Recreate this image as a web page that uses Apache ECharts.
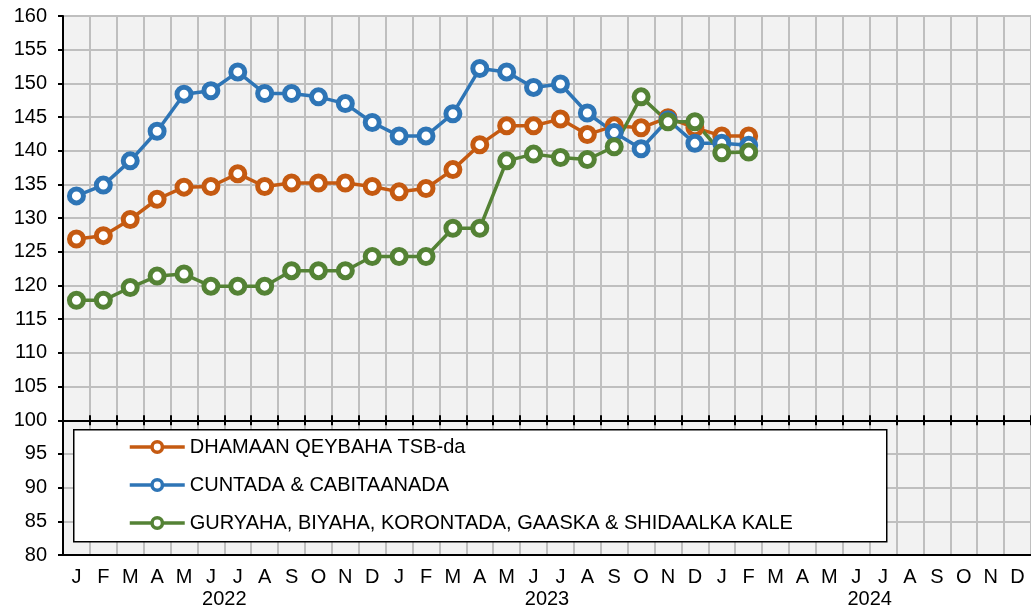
<!DOCTYPE html>
<html>
<head>
<meta charset="utf-8">
<script src="https://cdn.jsdelivr.net/npm/echarts@6/dist/echarts.min.js"></script>
<style>
  html, body { margin: 0; padding: 0; background: #fff; }
  #chart { width: 1031px; height: 609px; }
</style>
</head>
<body>
<div id="chart"></div>
<script>
// month ticks (Jan 2022 - Dec 2024)
const months = [
  "J", "F", "M", "A", "M", "J", "J", "A", "S", "O", "N", "D",
  "J", "F", "M", "A", "M", "J", "J", "A", "S", "O", "N", "D",
  "J", "F", "M", "A", "M", "J", "J", "A", "S", "O", "N", "D",
];
const years = ["2022", "2023", "2024"];

// index values
const dhamaan = [
  126.9, 127.4, 129.8, 132.8, 134.6, 134.7, 136.6, 134.7, 135.2, 135.2, 135.2, 134.7,
  133.9, 134.4, 137.2, 140.9, 143.7, 143.7, 144.7, 142.4, 143.7, 143.4, 144.9, 143.4,
  142.2, 142.2,
];
const cuntada = [
  133.3, 134.9, 138.5, 142.9, 148.4, 148.9, 151.7, 148.5, 148.5, 148.0, 147.0, 144.2,
  142.2, 142.2, 145.5, 152.2, 151.7, 149.4, 149.9, 145.6, 142.7, 140.3, 144.6, 141.1,
  141.1, 140.8,
];
const guryaha = [
  117.8, 117.8, 119.7, 121.4, 121.7, 119.9, 119.9, 119.9, 122.2, 122.2, 122.2, 124.3,
  124.3, 124.3, 128.5, 128.5, 138.5, 139.5, 139.0, 138.7, 140.6, 148.0, 144.3, 144.3,
  139.7, 139.8,
];

const seriesNames = [
  "DHAMAAN QEYBAHA TSB-da",
  "CUNTADA & CABITAANADA",
  "GURYAHA, BIYAHA, KORONTADA, GAASKA & SHIDAALKA KALE",
];
const colors = ["#C55A11", "#2E75B6", "#548235"];

const FONT = "'Liberation Sans', Arial, sans-serif";
const FONT_SIZE = 20;
const GRID_TOP = 16;
const GRID_BOTTOM = 54;
const Y_MIN = 80;
const Y_MAX = 160;

const chart = echarts.init(document.getElementById("chart"), null, { renderer: "canvas" });

const gridHeight = 609 - GRID_TOP - GRID_BOTTOM;
// x axis crosses at 100
const crossOffset = -((100 - Y_MIN) / (Y_MAX - Y_MIN)) * gridHeight;

const makeLine = (name, data, color) => ({
  name: name,
  type: "line",
  data: data,
  symbol: "circle",
  symbolSize: 14,
  z: 5,
  lineStyle: { color: color, width: 3.5 },
  itemStyle: { color: "#fff", borderColor: color, borderWidth: 5 },
  emphasis: { disabled: true },
});

const option = {
  animation: false,
  textStyle: { fontFamily: FONT },
  grid: {
    left: 63,
    right: 0,
    top: GRID_TOP,
    bottom: GRID_BOTTOM,
    show: true,
    backgroundColor: "#f2f2f2",
    borderColor: "#000",
    borderWidth: 2,
    containLabel: false,
    outerBoundsMode: "none",
  },
  graphic: [
    {
      type: "rect",
      left: 73,
      top: 429,
      shape: { width: 813, height: 112 },
      style: { fill: "#fff", stroke: "#000", lineWidth: 1.5 },
      z: 6,
    },
  ],
  legend: {
    orient: "vertical",
    left: 128,
    top: 437,
    z: 10,
    itemWidth: 55,
    itemHeight: 13,
    itemGap: 18,
    padding: 0,
    selectedMode: false,
    data: seriesNames,
    lineStyle: { width: 3.5 },
    itemStyle: { borderWidth: 3.5 },
    textStyle: { fontFamily: FONT, fontSize: FONT_SIZE, color: "#000" },
  },
  xAxis: [
    {
      type: "category",
      data: months,
      position: "bottom",
      boundaryGap: true,
      axisLine: { show: true, lineStyle: { color: "#000", width: 2 } },
      axisTick: { show: false },
      axisLabel: {
        interval: 0,
        margin: 12,
        color: "#000",
        fontSize: FONT_SIZE,
        fontFamily: FONT,
      },
      splitLine: {
        show: true,
        interval: 0,
        lineStyle: { color: "#bfbfbf", width: 2 },
      },
    },
    {
      type: "category",
      data: months,
      position: "bottom",
      offset: crossOffset,
      axisLine: { show: true, lineStyle: { color: "#000", width: 2 } },
      axisTick: { show: true, interval: 0, length: 5, lineStyle: { color: "#000", width: 2 } },
      axisLabel: { show: false },
      splitLine: { show: false },
    },
    {
      type: "category",
      data: months,
      position: "bottom",
      offset: crossOffset,
      axisLine: { show: false },
      axisTick: { show: true, inside: true, interval: 0, length: 5, lineStyle: { color: "#000", width: 2 } },
      axisLabel: { show: false },
      splitLine: { show: false },
    },
    {
      type: "category",
      data: years,
      position: "bottom",
      axisLine: { show: false },
      axisTick: { show: false },
      axisLabel: {
        interval: 0,
        margin: 34,
        color: "#000",
        fontSize: FONT_SIZE,
        fontFamily: FONT,
      },
      splitLine: { show: false },
    },
  ],
  yAxis: {
    type: "value",
    min: Y_MIN,
    max: Y_MAX,
    interval: 5,
    axisLine: { show: true, lineStyle: { color: "#000", width: 2 } },
    axisTick: { show: true, length: 5, lineStyle: { color: "#000", width: 2 } },
    axisLabel: { margin: 16, color: "#000", fontSize: FONT_SIZE, fontFamily: FONT },
    splitLine: { show: true, lineStyle: { color: "#bfbfbf", width: 2 } },
  },
  series: [
    makeLine(seriesNames[0], dhamaan, colors[0]),
    makeLine(seriesNames[1], cuntada, colors[1]),
    makeLine(seriesNames[2], guryaha, colors[2]),
  ],
};

chart.setOption(option);
</script>
</body>
</html>
